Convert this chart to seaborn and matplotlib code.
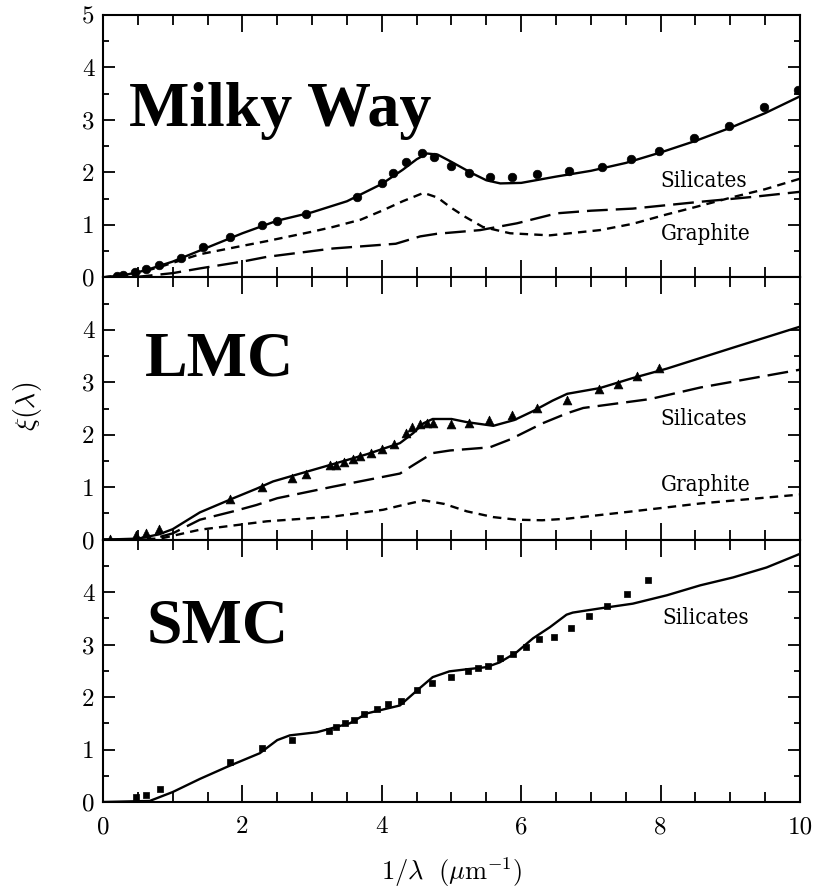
import matplotlib
matplotlib.use("Agg")
import matplotlib.pyplot as plt
import seaborn as sns
from matplotlib.ticker import MultipleLocator, FormatStrFormatter

# ---------------- data ----------------
# Milky Way
mw_obs_x = [0.2, 0.29, 0.46, 0.61, 0.81, 1.12, 1.44, 1.82, 2.28, 2.5, 2.91, 3.65, 4.0, 4.16,
            4.35, 4.58, 4.75, 4.99, 5.25, 5.55, 5.87, 6.23, 6.69, 7.16, 7.57, 7.98, 8.48,
            8.98, 9.48, 9.97]
mw_obs_y = [0.02, 0.05, 0.1, 0.15, 0.23, 0.37, 0.57, 0.76, 0.99, 1.08, 1.2, 1.53, 1.8, 1.98,
            2.19, 2.37, 2.29, 2.13, 1.98, 1.91, 1.91, 1.96, 2.02, 2.1, 2.25, 2.41, 2.65,
            2.88, 3.24, 3.58]
mw_tot_x = [0, 0.3, 0.6, 1.0, 1.5, 2.0, 2.5, 3.0, 3.5, 4.0, 4.3, 4.5, 4.65, 4.8, 5.0, 5.3,
            5.5, 5.7, 6.0, 6.5, 7.0, 7.5, 8.0, 8.5, 9.0, 9.5, 10]
mw_tot_y = [0, 0.04, 0.13, 0.3, 0.57, 0.84, 1.08, 1.24, 1.45, 1.78, 2.05, 2.25, 2.36, 2.34,
            2.2, 1.98, 1.85, 1.79, 1.8, 1.92, 2.03, 2.18, 2.38, 2.6, 2.85, 3.13, 3.45]
mw_gra_x = [0, 0.5, 0.82, 1.39, 2.0, 2.35, 3.0, 3.3, 3.7, 4.02, 4.3, 4.6, 4.8, 4.98, 5.2,
            5.45, 5.84, 6.41, 7.13, 7.6, 8.09, 8.5, 9.04, 9.5, 10]
mw_gra_y = [0, 0.08, 0.2, 0.44, 0.6, 0.69, 0.87, 0.96, 1.1, 1.28, 1.45, 1.61, 1.52, 1.34,
            1.15, 0.96, 0.84, 0.8, 0.9, 1.02, 1.2, 1.34, 1.53, 1.68, 1.88]
mw_sil_x = [0, 0.5, 1.0, 1.39, 2.0, 2.35, 3.0, 3.3, 3.8, 4.2, 4.4, 4.55, 4.79, 5.41, 5.94,
            6.51, 7.0, 7.6, 8.57, 9.3, 10]
mw_sil_y = [0, 0.01, 0.08, 0.17, 0.3, 0.39, 0.5, 0.55, 0.6, 0.64, 0.72, 0.78, 0.83, 0.9, 1.03,
            1.22, 1.27, 1.31, 1.44, 1.53, 1.63]

# Large Magellanic Cloud
lmc_obs_x = [0.1, 0.48, 0.61, 0.81, 1.82, 2.28, 2.71, 2.91, 3.26, 3.35, 3.46, 3.59, 3.69,
             3.84, 4.0, 4.18, 4.35, 4.43, 4.55, 4.65, 4.74, 4.99, 5.25, 5.54, 5.87, 6.23,
             6.66, 7.12, 7.39, 7.66, 7.98]
lmc_obs_y = [0.02, 0.08, 0.13, 0.21, 0.77, 1.01, 1.17, 1.26, 1.42, 1.43, 1.48, 1.54, 1.59,
             1.65, 1.72, 1.83, 2.03, 2.15, 2.2, 2.22, 2.22, 2.2, 2.22, 2.28, 2.38, 2.51,
             2.66, 2.87, 2.97, 3.12, 3.28]
lmc_tot_x = [0, 0.5, 0.8, 1.0, 1.39, 1.87, 2.2, 2.44, 2.83, 3.3, 3.79, 4.26, 4.45, 4.6, 4.73,
             5.0, 5.22, 5.6, 5.9, 6.17, 6.45, 6.66, 7.13, 7.6, 8.09, 9.04, 10]
lmc_tot_y = [0, 0.02, 0.1, 0.2, 0.52, 0.79, 0.97, 1.11, 1.26, 1.44, 1.63, 1.84, 2.03, 2.22,
             2.3, 2.3, 2.24, 2.17, 2.28, 2.45, 2.65, 2.78, 2.89, 3.08, 3.26, 3.66, 4.06]
lmc_sil_x = [0, 0.67, 1.0, 1.39, 1.87, 2.2, 2.5, 3.3, 4.26, 4.45, 4.73, 4.98, 5.55, 5.84,
             6.31, 6.66, 6.89, 7.85, 8.57, 10]
lmc_sil_y = [0, 0, 0.12, 0.38, 0.54, 0.66, 0.79, 1.01, 1.26, 1.42, 1.65, 1.7, 1.76, 1.91,
             2.22, 2.41, 2.51, 2.68, 2.9, 3.24]
lmc_gra_x = [0, 0.82, 1.39, 2.35, 3.3, 4.02, 4.3, 4.6, 4.9, 5.22, 5.6, 5.94, 6.3, 6.66, 7.6,
             8.57, 10]
lmc_gra_y = [0, 0.02, 0.19, 0.35, 0.44, 0.57, 0.66, 0.75, 0.68, 0.54, 0.43, 0.38, 0.37, 0.4,
             0.54, 0.69, 0.86]

# Small Magellanic Cloud
smc_obs_x = [0.47, 0.61, 0.82, 1.82, 2.28, 2.71, 3.24, 3.35, 3.47, 3.6, 3.75, 3.93, 4.09,
             4.28, 4.5, 4.72, 4.99, 5.24, 5.38, 5.52, 5.7, 5.88, 6.07, 6.26, 6.47, 6.71,
             6.97, 7.23, 7.52, 7.82]
smc_obs_y = [0.1, 0.13, 0.24, 0.76, 1.02, 1.19, 1.35, 1.43, 1.5, 1.57, 1.67, 1.77, 1.86,
             1.92, 2.13, 2.26, 2.39, 2.49, 2.55, 2.6, 2.74, 2.83, 2.95, 3.1, 3.14, 3.31,
             3.54, 3.73, 3.97, 4.24]
smc_sil_x = [0, 0.67, 1.0, 1.39, 1.78, 2.25, 2.5, 2.68, 3.07, 3.54, 3.79, 4.26, 4.5, 4.73,
             4.97, 5.22, 5.5, 5.69, 5.93, 6.17, 6.41, 6.65, 6.74, 7.13, 7.6, 8.09, 8.57,
             9.04, 9.52, 10]
smc_sil_y = [0, 0.02, 0.19, 0.44, 0.67, 0.93, 1.18, 1.27, 1.33, 1.5, 1.69, 1.84, 2.12, 2.38,
             2.49, 2.53, 2.57, 2.66, 2.85, 3.12, 3.33, 3.57, 3.61, 3.69, 3.78, 3.94, 4.13,
             4.28, 4.47, 4.73]

# ---------------- style ----------------
sns.set_theme(style="ticks")
plt.rcParams["font.family"] = ["cmr10", "DejaVu Serif"]
plt.rcParams["mathtext.fontset"] = "cm"
plt.rcParams["axes.formatter.use_mathtext"] = False
plt.rcParams["axes.unicode_minus"] = False
for key in ("text.color", "axes.labelcolor", "xtick.color", "ytick.color",
            "axes.edgecolor", "xtick.labelcolor", "ytick.labelcolor"):
    plt.rcParams[key] = "black"

SHORT = (0, (3.6, 2.6))
LONG = (0, (8.8, 3.4))
LW = 1.7

fig = plt.figure(figsize=(8.15, 8.89), dpi=100)
left, right = 103 / 815, 800 / 815
bottom, top = 1 - 802 / 889, 1 - 15 / 889
h = (top - bottom) / 3
axes = [fig.add_axes([left, bottom + (2 - i) * h, right - left, h]) for i in range(3)]


def style_axis(ax, show_x, yticks):
    ax.set_xlim(0, 10)
    ax.set_ylim(0, 5)
    ax.xaxis.set_major_locator(MultipleLocator(2))
    ax.xaxis.set_minor_locator(MultipleLocator(0.5))
    ax.xaxis.set_major_formatter(FormatStrFormatter("%d"))
    ax.set_yticks(yticks)
    ax.yaxis.set_major_formatter(FormatStrFormatter("%d"))
    ax.yaxis.set_minor_locator(MultipleLocator(0.5))
    ax.tick_params(axis="x", which="both", direction="in", top=True, bottom=True,
                   color="black", width=1.3, labelsize=18, pad=10,
                   labelbottom=show_x, labelcolor="black")
    ax.tick_params(axis="x", which="major", length=12)
    ax.tick_params(axis="x", which="minor", length=7)
    ax.tick_params(axis="y", which="both", direction="in", left=True, right=True,
                   color="black", width=1.3, labelsize=18, pad=6, labelcolor="black")
    ax.tick_params(axis="y", which="major", length=8.5)
    ax.tick_params(axis="y", which="minor", length=4.5)
    for lab in ax.get_xticklabels() + ax.get_yticklabels():
        lab.set_fontfamily("cmr10")
    for s in ax.spines.values():
        s.set_linewidth(1.5)
        s.set_color("black")
    ax.set_xlabel("")
    ax.set_ylabel("")


def draw_line(ax, x, y, ls):
    sns.lineplot(x=x, y=y, ax=ax, color="black", linewidth=LW, linestyle=ls,
                 errorbar=None, estimator=None, sort=False)


def draw_points(ax, x, y, marker, size):
    sns.scatterplot(x=x, y=y, ax=ax, marker=marker, s=size, color="black",
                    edgecolor="black", linewidth=0.5, zorder=4)


title_kw = dict(family="Liberation Serif", fontweight="bold", fontsize=46,
                color="black", ha="left", va="baseline")
note_kw = dict(family="DejaVu Serif", fontstretch="condensed", fontsize=16,
               color="black", ha="left", va="baseline")

# Milky Way panel
ax = axes[0]
draw_line(ax, mw_tot_x, mw_tot_y, "-")
draw_line(ax, mw_gra_x, mw_gra_y, SHORT)
draw_line(ax, mw_sil_x, mw_sil_y, LONG)
draw_points(ax, mw_obs_x, mw_obs_y, "o", 38)
ax.text(0.37, 2.88, "Milky Way", **title_kw)
ax.text(7.99, 1.72, "Silicates", **note_kw)
ax.text(8.0, 0.71, "Graphite", **note_kw)
style_axis(ax, False, [0, 1, 2, 3, 4, 5])

# LMC panel
ax = axes[1]
draw_line(ax, lmc_tot_x, lmc_tot_y, "-")
draw_line(ax, lmc_sil_x, lmc_sil_y, LONG)
draw_line(ax, lmc_gra_x, lmc_gra_y, SHORT)
draw_points(ax, lmc_obs_x, lmc_obs_y, "^", 40)
ax.text(0.6, 3.12, "LMC", **title_kw)
ax.text(8.0, 2.18, "Silicates", **note_kw)
ax.text(8.0, 0.92, "Graphite", **note_kw)
style_axis(ax, False, [0, 1, 2, 3, 4])

# SMC panel
ax = axes[2]
draw_line(ax, smc_sil_x, smc_sil_y, "-")
draw_points(ax, smc_obs_x, smc_obs_y, "s", 24)
ax.text(0.62, 3.04, "SMC", **title_kw)
ax.text(8.02, 3.40, "Silicates", **note_kw)
style_axis(ax, True, [0, 1, 2, 3, 4])

fig.text((left + right) / 2, 1 - 880 / 889, r"$1/\lambda\ \ (\mu{\rm m}^{-1})$",
         ha="center", va="baseline", fontsize=19, color="black")
fig.text(27 / 815, 1 - 406 / 889, r"$\xi(\lambda)$", rotation=90,
         ha="center", va="center", fontsize=20, color="black")

fig.savefig("out.png", dpi=100, facecolor="white")
